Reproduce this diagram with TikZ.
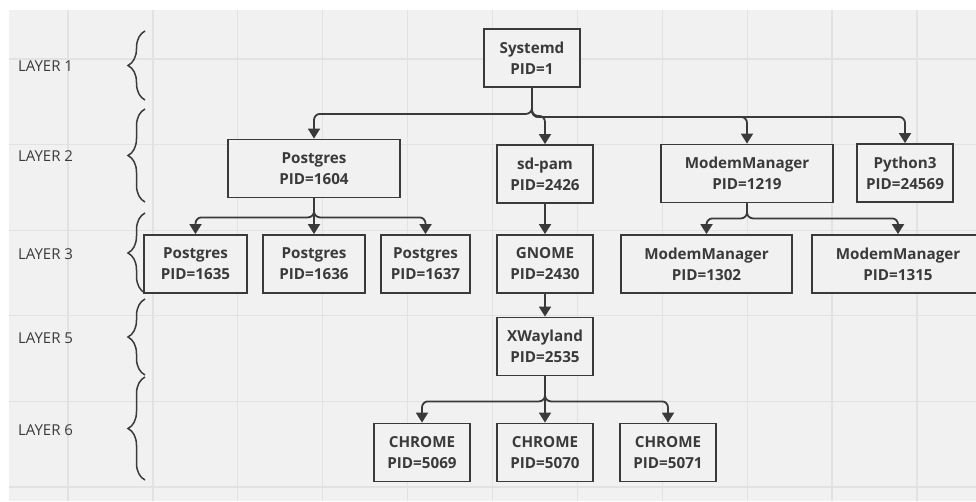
\documentclass[tikz,border=0pt]{standalone}
\usepackage{fontspec}
\setmainfont{Open Sans}
\usetikzlibrary{arrows.meta,decorations.pathreplacing}
\definecolor{ink}{HTML}{3A3A3A}
\definecolor{paper}{HTML}{F1F1F1}
\definecolor{gridline}{HTML}{E2E2E2}
\begin{document}
\begin{tikzpicture}[x=1pt,y=-1pt,
  proc/.style={draw=ink, line width=1.8pt, fill=paper, text=ink, align=center, inner sep=0pt,
    minimum height=58pt, font=\bfseries\fontsize{15.2}{21}\selectfont},
  link/.style={draw=ink, line width=1.8pt, rounded corners=6pt, -{Triangle[width=12pt,length=10pt]}},
  layer/.style={anchor=west, text=ink, inner sep=0pt, font=\fontsize{15}{17}\selectfont},
  lbrace/.style={draw=ink, line width=1.5pt, decorate, decoration={brace, amplitude=17pt}}]
\clip (0,0) rectangle (976,501);
\fill[white] (0,0) rectangle (976,501);
\fill[paper] (9,10) rectangle (976,501);
% grid of the board
\foreach \gx in {0,...,10}
  \draw[gridline, line width=1.3pt] ({68+84.9*\gx},10) -- ({68+84.9*\gx},501);
\foreach \gy in {0,...,5}
  \draw[gridline, line width=1.3pt] (9,{59+85.6*\gy}) -- (976,{59+85.6*\gy});

% layers
\node[layer] (l1) at (18,66.5) {LAYER 1};
\node[layer] (l2) at (18,156.5) {LAYER 2};
\node[layer] (l3) at (18,254) {LAYER 3};
\node[layer] (l5) at (18,338) {LAYER 5};
\node[layer] (l6) at (18,430) {LAYER 6};
\draw[lbrace] (145,100) -- (145,31);
\draw[lbrace] (145,202) -- (145,109);
\draw[lbrace] (145,293) -- (145,213);
\draw[lbrace] (145,375) -- (145,299);
\draw[lbrace] (145,480) -- (145,377);

% processes
\node[proc, minimum width=96pt] (sys) at (532,58) {Systemd\\PID=1};
\node[proc, minimum width=172pt] (pg) at (314,168.5) {Postgres\\PID=1604};
\node[proc, minimum width=96pt] (sdpam) at (545,174) {sd-pam\\PID=2426};
\node[proc, minimum width=172pt] (mm) at (747,173.5) {ModemManager\\PID=1219};
\node[proc, minimum width=96pt] (py) at (905,173) {Python3\\PID=24569};
\node[proc, minimum width=103pt] (pga) at (195.5,264) {Postgres\\PID=1635};
\node[proc, minimum width=102pt] (pgb) at (314,264) {Postgres\\PID=1636};
\node[proc, minimum width=89pt] (pgc) at (425.5,264) {Postgres\\PID=1637};
\node[proc, minimum width=96pt] (gnome) at (545,264) {GNOME\\PID=2430};
\node[proc, minimum width=171pt] (mma) at (706.5,264) {ModemManager\\PID=1302};
\node[proc, minimum width=172pt] (mmb) at (898,264) {ModemManager\\PID=1315};
\node[proc, minimum width=96pt] (xw) at (545,346.5) {XWayland\\PID=2535};
\node[proc, minimum width=96pt] (cha) at (422,452.5) {CHROME\\PID=5069};
\node[proc, minimum width=96pt] (chb) at (545,452.5) {CHROME\\PID=5070};
\node[proc, minimum width=96pt] (chc) at (668,452.5) {CHROME\\PID=5071};

% parent -> child
\draw[link] (sys.south) -- ++(0,26) -| (pg.north);
\draw[link] (sys.south) -- ++(0,28) -| (sdpam.north);
\draw[link] (sys.south) -- ++(0,29) -| (mm.north);
\draw[link] (sys.south) -- ++(0,29) -| (py.north);
\draw[link] (pg.south) -- ++(0,19) -| (pga.north);
\draw[link] (pg.south) -- (pgb.north);
\draw[link] (pg.south) -- ++(0,19) -| (pgc.north);
\draw[link] (sdpam) -- (gnome);
\draw[link] (mm.south) -- ++(0,15) -| (mma.north);
\draw[link] (mm.south) -- ++(0,15) -| (mmb.north);
\draw[link] (gnome) -- (xw);
\draw[link] (xw.south) -- ++(0,25) -| (cha.north);
\draw[link] (xw) -- (chb);
\draw[link] (xw.south) -- ++(0,25) -| (chc.north);
\end{tikzpicture}
\end{document}
